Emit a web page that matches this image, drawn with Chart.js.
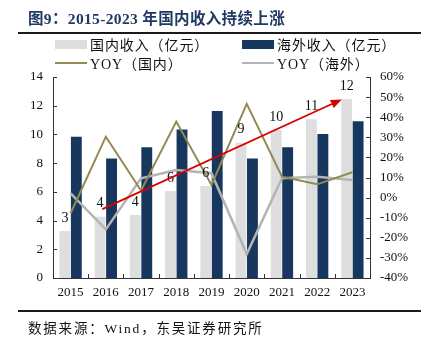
<!DOCTYPE html>
<html>
<head>
<meta charset="utf-8">
<script src="https://cdn.jsdelivr.net/npm/chart.js@4/dist/chart.umd.min.js"></script>
<style>
  body { margin: 0; background: #fff; }
  #wrap { position: relative; width: 430px; height: 344px; overflow: hidden; }
  #revenueChart { position: absolute; left: 0; top: 0; }
  .title { position: absolute; left: 28px; top: 6px; font: bold 15.5px "Liberation Serif", "Noto Sans CJK SC"; color: #1F3864; letter-spacing: 0.35px; white-space: nowrap; }
  .rule { position: absolute; left: 18px; width: 403px; height: 2px; background: #1a1a1a; }
  .legend-item { position: absolute; height: 18px; display: flex; align-items: center; font: 14px "Liberation Serif", "Noto Sans CJK SC"; color: #111; letter-spacing: 0.9px; white-space: nowrap; }
  .legend-item span.box { display: inline-block; width: 32px; margin-right: 3px; }
  .source { position: absolute; left: 28px; top: 317px; font: 13.5px "Liberation Serif", "Noto Sans CJK SC"; color: #111; letter-spacing: 1.8px; white-space: nowrap; }
</style>
</head>
<body>
<div id="wrap">
  <canvas id="revenueChart" width="430" height="344"></canvas>
  <div class="title">图9：2015-2023 年国内收入持续上涨</div>
  <div class="rule" style="top:32px"></div>
  <div id="legend"></div>
  <div class="rule" style="top:310px"></div>
  <div class="source">数据来源：Wind，东吴证券研究所</div>
</div>
<script>
const years = ['2015', '2016', '2017', '2018', '2019', '2020', '2021', '2022', '2023'];
const domestic = [3.27, 4.27, 4.39, 6.06, 6.40, 9.42, 10.30, 11.05, 12.47];
const overseas = [9.84, 8.33, 9.10, 10.35, 11.63, 8.33, 9.10, 10.03, 10.91];
const yoyDomestic = [-7.8, 30.3, 3.5, 37.8, 6.3, 46.6, 10.4, 6.6, 12.6];
const yoyOverseas = [2.1, -15.8, 9.6, 13.7, 12.1, -28.1, 9.6, 10.4, 8.8];
// trend arrow ends: [category index, left-axis value]
const trendFrom = [0.9, 4.8];
const trendTo = [7.7, 12.44];

const serif = '"Liberation Serif", "Noto Sans CJK SC"';

// inward tick marks on all three axes
const innerTicks = {
  id: 'innerTicks',
  afterDraw(chart) {
    const { ctx, chartArea: a, scales } = chart;
    ctx.save();
    ctx.strokeStyle = '#333';
    ctx.lineWidth = 1;
    ctx.beginPath();
    scales.y.ticks.forEach((t, i) => {
      const py = Math.round(scales.y.getPixelForTick(i)) + 0.5;
      ctx.moveTo(a.left, py); ctx.lineTo(a.left + 4, py);
    });
    scales.y1.ticks.forEach((t, i) => {
      const py = Math.round(scales.y1.getPixelForTick(i)) + 0.5;
      ctx.moveTo(a.right - 4, py); ctx.lineTo(a.right, py);
    });
    const n = years.length;
    for (let i = 1; i < n; i++) {
      const px = Math.round(a.left + (a.right - a.left) * i / n) + 0.5;
      ctx.moveTo(px, a.bottom); ctx.lineTo(px, a.bottom - 4);
    }
    ctx.stroke();
    ctx.restore();
  }
};

// rounded value labels over the domestic bars, plus the red trend arrow
const annotations = {
  id: 'annotations',
  afterDatasetsDraw(chart) {
    const { ctx, scales } = chart;
    const meta = chart.getDatasetMeta(0);
    ctx.save();
    ctx.font = '14px ' + serif;
    ctx.fillStyle = '#111';
    ctx.textAlign = 'center';
    ctx.textBaseline = 'middle';
    meta.data.forEach((bar, i) => {
      ctx.fillText(String(Math.round(domestic[i])), bar.x, bar.y - 13);
    });

    const x0 = scales.x.getPixelForValue(trendFrom[0]);
    const y0 = scales.y.getPixelForValue(trendFrom[1]);
    const x1 = scales.x.getPixelForValue(trendTo[0]);
    const y1 = scales.y.getPixelForValue(trendTo[1]);
    const ang = Math.atan2(y1 - y0, x1 - x0);
    const head = 11, half = 4.5;
    ctx.strokeStyle = '#D90000';
    ctx.fillStyle = '#D90000';
    ctx.lineWidth = 1.8;
    ctx.beginPath();
    ctx.moveTo(x0, y0);
    ctx.lineTo(x1 - head * Math.cos(ang), y1 - head * Math.sin(ang));
    ctx.stroke();
    ctx.beginPath();
    ctx.moveTo(x1, y1);
    ctx.lineTo(x1 - head * Math.cos(ang) + half * Math.sin(ang), y1 - head * Math.sin(ang) - half * Math.cos(ang));
    ctx.lineTo(x1 - head * Math.cos(ang) - half * Math.sin(ang), y1 - head * Math.sin(ang) + half * Math.cos(ang));
    ctx.closePath();
    ctx.fill();
    ctx.restore();
  }
};

const ctx = document.getElementById('revenueChart').getContext('2d');
const revenueChart = new Chart(ctx, {
  type: 'bar',
  data: {
    labels: years,
    datasets: [
      {
        label: '国内收入（亿元）',
        data: domestic,
        backgroundColor: '#DEDEDE',
        yAxisID: 'y',
        order: 2,
        categoryPercentage: 0.65,
        barPercentage: 0.95
      },
      {
        label: '海外收入（亿元）',
        data: overseas,
        backgroundColor: '#17375E',
        yAxisID: 'y',
        order: 2,
        categoryPercentage: 0.65,
        barPercentage: 0.95
      },
      {
        type: 'line',
        label: 'YOY（国内）',
        data: yoyDomestic,
        borderColor: '#938953',
        backgroundColor: '#938953',
        borderWidth: 2,
        pointRadius: 0,
        tension: 0,
        yAxisID: 'y1',
        order: 0
      },
      {
        type: 'line',
        label: 'YOY（海外）',
        data: yoyOverseas,
        borderColor: '#B4B4B4',
        backgroundColor: '#B4B4B4',
        borderWidth: 2.5,
        pointRadius: 0,
        tension: 0,
        yAxisID: 'y1',
        order: 1
      }
    ]
  },
  options: {
    responsive: false,
    animation: false,
    layout: { padding: { top: 77, left: 0, right: 0, bottom: 0 } },
    plugins: {
      legend: { display: false },
      tooltip: { enabled: false }
    },
    scales: {
      x: {
        offset: true,
        grid: { display: false, drawTicks: false },
        border: { color: '#333', width: 1 },
        ticks: { color: '#111', font: { family: serif, size: 13 }, padding: 7 },
        afterFit(scale) { scale.height = 66; }
      },
      y: {
        position: 'left',
        min: 0,
        max: 14,
        grid: { display: false, drawTicks: false },
        border: { color: '#333', width: 1 },
        ticks: { stepSize: 2, color: '#111', font: { family: serif, size: 13 }, padding: 10 },
        afterFit(scale) { scale.width = 53; }
      },
      y1: {
        position: 'right',
        min: -40,
        max: 60,
        grid: { display: false, drawTicks: false },
        border: { color: '#333', width: 1 },
        ticks: {
          stepSize: 10,
          color: '#111',
          font: { family: serif, size: 13 },
          padding: 10,
          callback: v => v + '%'
        },
        afterFit(scale) { scale.width = 60; }
      }
    }
  },
  plugins: [innerTicks, annotations]
});

// two-column legend built from the datasets
const legend = document.getElementById('legend');
revenueChart.data.datasets.forEach((ds, i) => {
  const item = document.createElement('div');
  item.className = 'legend-item';
  item.style.left = (i % 2 ? 242 : 55) + 'px';
  item.style.top = (35 + Math.floor(i / 2) * 19) + 'px';
  const box = document.createElement('span');
  box.className = 'box';
  if (ds.type === 'line') {
    box.style.height = '2px';
    box.style.background = ds.borderColor;
  } else {
    box.style.height = '9px';
    box.style.background = ds.backgroundColor;
  }
  item.appendChild(box);
  item.appendChild(document.createTextNode(ds.label));
  legend.appendChild(item);
});
</script>
</body>
</html>
